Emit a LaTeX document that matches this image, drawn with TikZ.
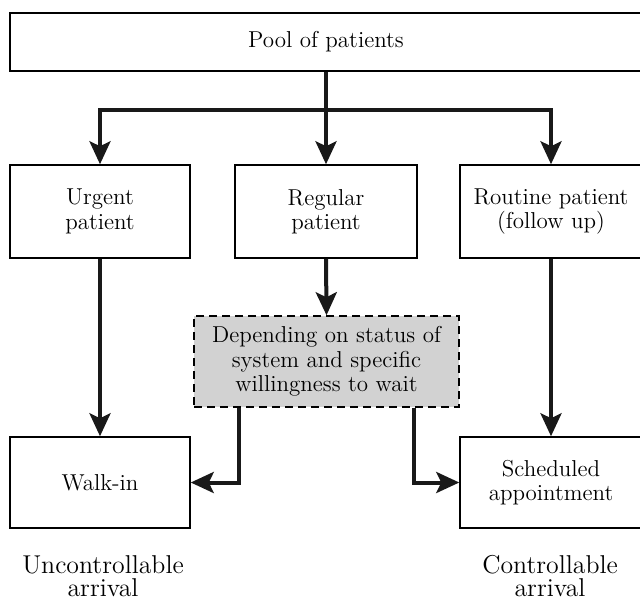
\documentclass[tikz,border=0pt]{standalone}
\usetikzlibrary{arrows.meta}

\tikzset{
  box/.style={draw, line width=0.75pt, align=center, inner sep=2pt,
    font=\fontsize{11.5}{12.2}\selectfont},
  waitbox/.style={box, dashed, dash pattern=on 4pt off 2.5pt, fill=gray!35},
  flow/.style={line width=2pt, draw=black!90, -{Stealth[length=11.5pt,width=10.5pt,inset=2.5pt]}},
  link/.style={line width=2pt, draw=black!90},
  outcome/.style={align=center, inner sep=0pt, font=\fontsize{12.9}{11.5}\selectfont}
}

\begin{document}
\begin{tikzpicture}[x=0.5pt,y=-0.5pt]

\useasboundingbox (0,0) rectangle (640,599);

% patient groups
\node[box, minimum width=316pt, minimum height=29pt] (pool) at (326,42) {Pool of patients};
\node[box, minimum width=90pt, minimum height=46.5pt] (urgent) at (100,211.5) {Urgent\\patient};
\node[box, minimum width=91pt, minimum height=46.5pt] (regular) at (326,211.5) {Regular\\patient};
\node[box, minimum width=91pt, minimum height=46.5pt] (routine) at (551,211.5) {Routine patient\\(follow up)};

% decision
\node[waitbox, minimum width=132.5pt, minimum height=45.5pt] (wait) at (326.5,361.5) {Depending on status of\\system and specific\\willingness to wait};

% arrival types
\node[box, minimum width=90pt, minimum height=45.5pt] (walkin) at (100,482.5) {Walk-in};
\node[box, minimum width=91pt, minimum height=45.5pt] (sched) at (551,482.5) {Scheduled\\appointment};

\node[outcome] (unctrl) at (103,576) {Uncontrollable\\arrival};
\node[outcome] (ctrl) at (550,576) {Controllable\\arrival};

% connectors
\coordinate (split) at (326,110);
\draw[link] (pool.south) -- (split);
\draw[flow] (split) -| (urgent.north);
\draw[flow] (split) -| (routine.north);
\draw[flow] (split) -- (regular.north);
\draw[flow] (regular.south) -- (wait.north);
\draw[flow] (urgent.south) -- (walkin.north);
\draw[flow] (routine.south) -- (sched.north);
\draw[flow] ([xshift=23pt]wait.south west) |- (walkin.east);
\draw[flow] ([xshift=-23pt]wait.south east) |- (sched.west);

\end{tikzpicture}
\end{document}
